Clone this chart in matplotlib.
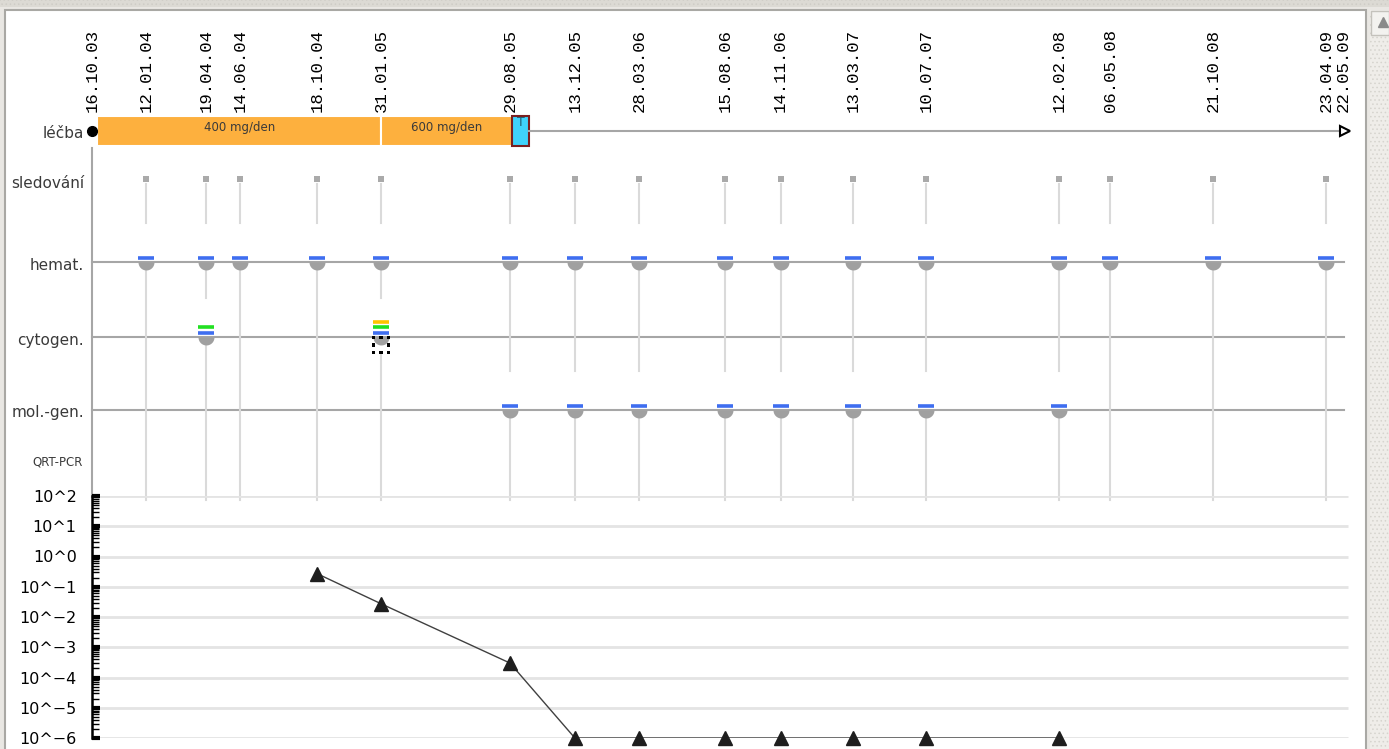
from datetime import datetime
import numpy as np
import matplotlib
matplotlib.use('Agg')
import matplotlib.pyplot as plt
import matplotlib.dates as mdates
from matplotlib.patches import Rectangle
from matplotlib.path import Path
from matplotlib.markers import MarkerStyle
from matplotlib.ticker import LogLocator, NullFormatter

# --- data ---------------------------------------------------------------
tick_dates = ['16.10.03', '12.01.04', '19.04.04', '14.06.04', '18.10.04', '31.01.05',
              '29.08.05', '13.12.05', '28.03.06', '15.08.06', '14.11.06', '13.03.07',
              '10.07.07', '12.02.08', '06.05.08', '21.10.08', '23.04.09', '22.05.09']
exam_dates = tick_dates[1:17]          # sledovani + hemat.
cyto_dates = ['19.04.04', '31.01.05']
cyto_stacks = [['blue', 'green'], ['blue', 'green', 'yellow']]
cyto_flagged = ['31.01.05']
molgen_dates = ['29.08.05', '13.12.05', '28.03.06', '15.08.06', '14.11.06',
                '13.03.07', '10.07.07', '12.02.08']
pcr_dates = ['18.10.04', '31.01.05', '29.08.05', '13.12.05', '28.03.06', '15.08.06',
             '14.11.06', '13.03.07', '10.07.07', '12.02.08']
pcr_values = [0.27, 0.027, 3e-4, 1e-6, 1e-6, 1e-6, 1e-6, 1e-6, 1e-6, 1e-6]
therapy_start = ['24.10.03', '31.01.05']
therapy_end = ['31.01.05', '01.09.05']
therapy_dose = ['400 mg/den', '600 mg/den']
transplant = ('01.09.05', '29.09.05')
row_labels = ['léčba', 'sledování', 'hemat.', 'cytogen.', 'mol.-gen.']
decade_labels = ['10^\u22126', '10^\u22125', '10^\u22124', '10^\u22123', '10^\u22122',
                 '10^\u22121', '10^0', '10^1', '10^2']

# --- layout -------------------------------------------------------------
W, H = 1389, 749
PX_PER_DAY = 0.612
X0_PX = 92
ROW_Y = {'léčba': 131, 'sledování': 181, 'hemat.': 262, 'cytogen.': 337, 'mol.-gen.': 410}
GAP = 39
PANEL_TOP = 500

COL = {'blue': '#3f6ef0', 'green': '#22e022', 'yellow': '#ffc400'}
GREY = '#a6a6a6'
VLINE = '#dadada'


def d(s):
    return mdates.date2num(datetime.strptime(s, '%d.%m.%y'))


d0 = d(tick_dates[0])
d_end = d(tick_dates[-1])
xlim = (d0 - X0_PX / PX_PER_DAY, d0 + (W - X0_PX) / PX_PER_DAY)

fig = plt.figure(figsize=(W / 100, H / 100), dpi=100)
fig.patch.set_facecolor('#e9e7e3')
plt.rcParams['hatch.linewidth'] = 0.6

# window chrome
bg = fig.add_axes([0, 0, 1, 1])
bg.set_xlim(0, W)
bg.set_ylim(H, 0)
bg.axis('off')
bg.add_patch(Rectangle((0, 0), W, 7, fc='#dcdad4', ec='#cfcdc7', hatch='....', lw=0))
bg.add_patch(Rectangle((5, 10), 1361, 745, fc='white', ec='#a9a8a4', lw=1.5))
bg.add_patch(Rectangle((1370, 10), 19, 745, fc='#efede9', ec='#d6d4ce', hatch='....',
                       lw=0))
bg.add_patch(Rectangle((1371, 11), 18, 24, fc='#f3f2ef', ec='#c4c2bc', lw=1))
bg.plot(1383, 22, marker='^', ms=7, color='#8a8a8a')

# timeline part
ax = fig.add_axes([0, 0, 1, 1])
ax.set_facecolor('none')
ax.set_xlim(*xlim)
ax.set_ylim(H, 0)
ax.axis('off')

for t in tick_dates:
    ax.text(d(t), 112, t, rotation=90, ha='center', va='bottom',
            family='Liberation Mono', size=12.5, color='black')

for lab in row_labels:
    ax.annotate(lab, xy=(d0, ROW_Y[lab] + 3), xytext=(-8, 0), textcoords='offset pixels',
                ha='right', va='center', size=11, color='#3a3a3a')
ax.annotate('QRT-PCR', xy=(d0, 462), xytext=(-9, 0), textcoords='offset pixels',
            ha='right', va='center', size=8.5, color='#3a3a3a')

# treatment bar
y = ROW_Y['léčba']
for s, e, dose in zip(therapy_start, therapy_end, therapy_dose):
    ax.barh(y, d(e) - d(s), left=d(s), height=30, color='#fdb03e', ec='white', lw=1.5)
    ax.text((d(s) + d(e)) / 2, y - 3, dose, ha='center', va='center', size=8.5,
            color='#3a3a3a')
ax.barh(y, d(transplant[1]) - d(transplant[0]), left=d(transplant[0]), height=30,
        color='#3fd2fa', ec='#7a1f1f', lw=1.5)
ax.text((d(transplant[0]) + d(transplant[1])) / 2, y - 8, 'T', ha='center', va='center',
        size=9, color='#235f73', zorder=5)
ax.plot([d(transplant[1]), d_end], [y, y], color=GREY, lw=1.5)
ax.plot(d_end + 2, y, marker='>', ms=7, mfc='white', mec='black', mew=1.5)
ax.plot(d0, y, 'o', ms=7, color='black')
ax.plot([d0, d0], [148, PANEL_TOP - 3], color=GREY, lw=1.5)

# row base lines
for lab in ['hemat.', 'cytogen.', 'mol.-gen.']:
    ax.plot([d0, d_end], [ROW_Y[lab]] * 2, color=GREY, lw=1.5, zorder=1)

# vertical connectors per examination date
for t in exam_dates:
    x = d(t)
    rows = ['hemat.']
    if t in cyto_dates:
        rows.append('cytogen.')
    if t in molgen_dates:
        rows.append('mol.-gen.')
    ax.plot([x, x], [ROW_Y['sledování'] + 3, ROW_Y['hemat.'] - GAP], color=VLINE, lw=1.5,
            zorder=1)
    for a, b in zip(rows, rows[1:] + [None]):
        top = ROW_Y[a] + (18 if t in cyto_flagged and a == 'cytogen.' else 9)
        bot = ROW_Y[b] - GAP if b else PANEL_TOP
        ax.plot([x, x], [top, bot], color=VLINE, lw=1.5, zorder=1)

sx = [d(t) for t in exam_dates]
ax.plot(sx, [ROW_Y['sledování'] - 2] * len(sx), 's', ms=4, color='#aaaaaa', mew=0)

# half-disc marker (flat side up, hanging below the row line)
ang = np.linspace(np.pi, 2 * np.pi, 25)
half = MarkerStyle(Path(np.column_stack([np.cos(ang), np.sin(ang)])))


def marks(dates, row, stacks=None):
    xs = [d(t) for t in dates]
    yr = ROW_Y[row]
    ax.plot(xs, [yr] * len(xs), ls='none', marker=half, ms=11.5, color='#a0a0a0',
            mew=0, zorder=3)
    if stacks is None:
        stacks = [['blue']] * len(xs)
    for x, st in zip(xs, stacks):
        for i, c in enumerate(st):
            ax.plot(x, yr - 4.5 - 5.3 * i, marker='_', ms=11.5, mew=2.6, color=COL[c],
                    zorder=4)


marks(exam_dates, 'hemat.')
marks(cyto_dates, 'cytogen.', cyto_stacks)
marks(molgen_dates, 'mol.-gen.')

# dotted box marker for flagged cytogenetics
dots = []
for px, py in [(-1, -1), (0, -1), (1, -1), (-1, 0), (1, 0), (-1, 1), (0, 1), (1, 1)]:
    dots.append(Path.unit_rectangle().transformed(
        matplotlib.transforms.Affine2D().translate(-0.5, -0.5).scale(0.42).translate(px, py)))
dot_marker = MarkerStyle(Path.make_compound_path(*dots))
ax.plot([d(t) for t in cyto_flagged], [ROW_Y['cytogen.'] + 8], ls='none',
        marker=dot_marker, ms=13.5, color='black', mew=0, zorder=5)

# QRT-PCR log panel
ax2 = fig.add_axes([0, (H - 738) / H, 1, (738 - 496) / H])
ax2.set_facecolor('none')
ax2.set_xlim(*xlim)
ax2.set_yscale('log')
ax2.set_ylim(1e-6, 1e2)
decades = [10.0 ** p for p in range(-6, 3)]
ax2.hlines(decades, d0, d_end + 8, color='#e4e4e4', lw=2, zorder=1)
for s in ['top', 'right', 'bottom']:
    ax2.spines[s].set_visible(False)
ax2.spines['left'].set_position(('data', d0))
ax2.spines['left'].set_linewidth(1.8)
ax2.set_xticks([])
ax2.set_yticks(decades)
ax2.set_yticklabels(decade_labels)
ax2.yaxis.set_minor_locator(LogLocator(base=10, subs=np.arange(2, 10), numticks=100))
ax2.yaxis.set_minor_formatter(NullFormatter())
ax2.tick_params(axis='y', which='major', direction='in', length=6, width=3, pad=11,
                labelsize=11.5, labelcolor='black')
ax2.tick_params(axis='y', which='minor', direction='in', length=5, width=1)
ax2.plot([d(t) for t in pcr_dates], pcr_values, color='#404040', lw=1, zorder=2)
ax2.plot([d(t) for t in pcr_dates], pcr_values, ls='none', marker='^', ms=10.5,
         color='#1e1e1e', zorder=3, clip_on=False)

fig.savefig('out.png', dpi=100, facecolor=fig.get_facecolor())
